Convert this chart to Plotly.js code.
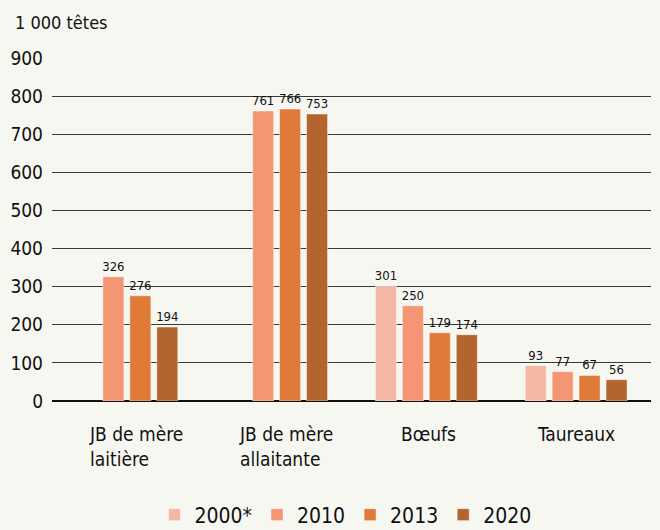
<!DOCTYPE html>
<html>
<head>
<meta charset="utf-8">
<script src="https://cdn.plot.ly/plotly-3.0.1.min.js"></script>
<style>
html,body{margin:0;padding:0;background:#f7f7f2;}
#chart{width:660px;height:530px;}
</style>
</head>
<body>
<div id="chart"></div>
<script>
const categories = ["JB de mère laitière", "JB de mère allaitante", "Bœufs", "Taureaux"];
const categoryLabels = ["JB de mère<br>laitière", "JB de mère<br>allaitante", "Bœufs", "Taureaux"];
const seriesNames = ["2000*", "2010", "2013", "2020"];
const values2000 = [null, null, 301, 93];
const values2010 = [326, 761, 250, 77];
const values2013 = [276, 766, 179, 67];
const values2020 = [194, 753, 174, 56];
const yTicks = [0, 100, 200, 300, 400, 500, 600, 700, 800, 900];
const colors = ["#f4b8a4", "#f49673", "#e07a38", "#b3652f"];
const labelShift = [9, 9, 2, 0];

const FONT = "'DejaVu Sans Condensed', 'Liberation Sans Narrow', 'Arial Narrow', sans-serif";
const allValues = [values2000, values2010, values2013, values2020];

const traces = allValues.map((vals, i) => ({
  type: "bar",
  name: seriesNames[i],
  x: categories,
  y: vals,
  marker: { color: colors[i], line: { color: "rgba(255,255,255,0.45)", width: 1 } },
  text: vals.map(v => v == null ? "" : String(v)),
  textposition: "outside",
  textfont: { family: FONT, size: 13, color: "#111" },
  cliponaxis: false,
  constraintext: "none",
  hoverinfo: "skip"
}));

const annotations = categories.map((c, i) => ({
  x: c, xref: "x", y: 0, yref: "paper",
  text: categoryLabels[i],
  showarrow: false,
  xanchor: "center", yanchor: "top", align: "left",
  xshift: labelShift[i], yshift: -20,
  font: { family: FONT, size: 19, color: "#111" }
}));

const layout = {
  width: 660, height: 530,
  paper_bgcolor: "#f7f7f2",
  plot_bgcolor: "#f7f7f2",
  margin: { l: 52, r: 9, t: 58, b: 129 },
  font: { family: FONT, color: "#111" },
  title: {
    text: "1 000 têtes",
    x: 15 / 660, xref: "container", xanchor: "left",
    y: 1 - 23 / 530, yref: "container", yanchor: "middle",
    font: { family: FONT, size: 18, color: "#111" }
  },
  barmode: "group",
  bargap: 0.28,
  bargroupgap: 0.22,
  xaxis: {
    showticklabels: false,
    ticks: "",
    showgrid: false,
    showline: false,
    zeroline: false
  },
  yaxis: {
    range: [0, 900],
    tickvals: yTicks,
    ticktext: yTicks.map(String),
    tickfont: { family: FONT, size: 19, color: "#111" },
    showgrid: true,
    gridcolor: "#3a3a3a",
    gridwidth: 1,
    zeroline: true,
    zerolinecolor: "#111",
    zerolinewidth: 1.5,
    showline: false,
    ticks: "",
    ticklabelstandoff: 8,
    automargin: false
  },
  legend: {
    orientation: "h",
    x: 0.49, xanchor: "center",
    xref: "paper",
    y: 15 / 530, yanchor: "middle",
    yref: "container",
    font: { family: FONT, size: 21, color: "#111" },
    itemwidth: 30,
    bgcolor: "rgba(0,0,0,0)"
  },
  annotations: annotations,
  showlegend: true
};

Plotly.newPlot("chart", traces, layout, { displayModeBar: false, staticPlot: true });
</script>
</body>
</html>
